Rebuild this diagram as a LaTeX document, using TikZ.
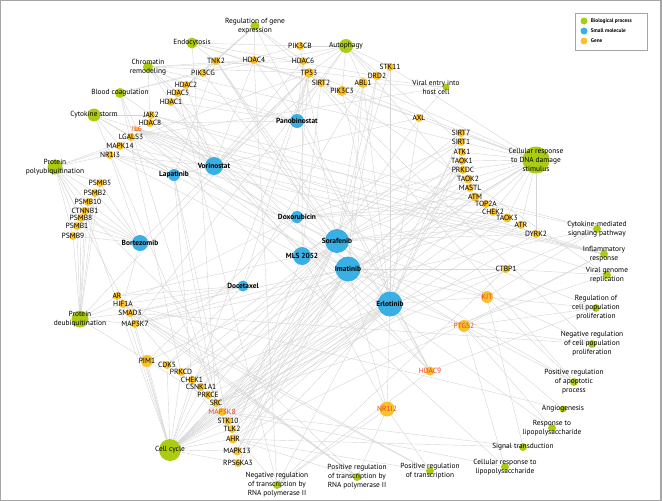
\documentclass[tikz,border=0pt]{standalone}
\usepackage{fontspec}
\setmainfont{PT Sans}
\usetikzlibrary{backgrounds,positioning}
\definecolor{bpgreen}{RGB}{170,205,20}
\definecolor{smblue}{RGB}{58,175,228}
\definecolor{gnorange}{RGB}{250,193,45}
\definecolor{gnred}{RGB}{235,65,40}
\definecolor{edgegray}{RGB}{214,214,214}
\definecolor{framegray}{RGB}{165,165,165}
\tikzset{
  bp/.style={circle,fill=bpgreen,inner sep=0pt,minimum size=#1},
  sm/.style={circle,fill=smblue,inner sep=0pt,minimum size=#1},
  gn/.style={circle,fill=gnorange,inner sep=0pt,minimum size=#1},
  gtext/.style={inner sep=0pt,font=\fontsize{7.5}{8}\selectfont},
  rtext/.style={gtext,text=gnred},
  ptext/.style={inner sep=0pt,align=center,font=\fontsize{7.4}{9}\selectfont},
  stext/.style={inner sep=0pt,font=\bfseries\fontsize{7.4}{8}\selectfont},
  ltext/.style={inner sep=0pt,font=\bfseries\fontsize{5.3}{6}\selectfont},
  edge/.style={draw=edgegray,line width=0.42pt},
}
\begin{document}
\begin{tikzpicture}[x=1pt,y=-1pt]
  \useasboundingbox (0,0) rectangle (662,501);
  % Frame
  \draw[framegray,line width=1.2pt] (0.6,0.6) rectangle (660.9,500.2);

  % Small molecules
  \foreach \n/\lbl/\x/\y/\s in {Vorinostat/Vorinostat/214/166/18, Lapatinib/Lapatinib/174/175/12,
      Panobinostat/Panobinostat/297/121/14, Bortezomib/Bortezomib/140/243/16,
      Doxorubicin/Doxorubicin/297/217/12, MLS/MLS 2052/302/256/18,
      Sorafenib/Sorafenib/337/241/24, Imatinib/Imatinib/348/269/25,
      Docetaxel/Docetaxel/243/286/11, Erlotinib/Erlotinib/390/304/25}
    \node[sm=\s, label={[stext]center:\lbl}] (\n) at (\x,\y) {};

  % Genes
  \foreach \n/\x/\y/\s in {TNK2/216/61/8, PIK3CG/203/73/8, HDAC4/254/60/8, PIK3CB/300/46/8,
      HDAC6/303/61/8, TP53/309/73/10, SIRT2/321/83/8, PIK3C3/342/91/10, ABL1/363/83/10,
      DRD2/377/76/8, STK11/390/67/8, AXL/419/118/8,
      HDAC2/186/85/8, HDAC5/178/93/8, HDAC1/171/102/8, JAK2/151/115/8, HDAC8/150/123/8,
      LGALS3/131/137/8, MAPK14/120/146/8, NR1I3/110/155/8,
      PSMB5/100/183/8, PSMB2/95/193/8, PSMB10/88/202/8, CTNNB1/85/211/8, PSMB8/81/218/8,
      PSMB1/77/226/8, PSMB9/73/236/8,
      AR/117/296/8, HIF1A/123/304/8, SMAD3/130/313/8, MAP3K7/135/324/8,
      SIRT7/461/133/8, SIRT1/461/142/8, ATK1/462/152/8, TAOK1/462/161/8, PRKDC/463/170/8,
      TAOK2/468/179/9, MASTL/470/188/8, ATM/475/197/9, TOP2A/486/204/8, CHEK2/493/212/8,
      TAOK3/507/218/9, ATR/521/225/8, DYRK2/536/234/8, CTBP1/506/269/8,
      PIM1/147/361/12, CDK5/167/365/8, PRKCD/181/372/8, CHEK1/192/380/8, CSNK1A1/201/387/8,
      PRKCE/208/395/8, SRC/216/403/8, STK10/228/421/8, TLK2/232/429/8, AHR/233/439/9,
      MAPK13/237/451/9, RPS6KA3/238/463/8}
    \node[gn=\s, label={[gtext]center:\n}] (\n) at (\x,\y) {};
  \foreach \n/\x/\y/\s in {IL6/137/129/5, MAP3K8/222/412/8, KIT/487/297/12,
      PTGS2/464/326/12, HDAC9/430/371/9, NR1I2/387/409/15}
    \node[gn=\s, label={[rtext]center:\n}] (\n) at (\x,\y) {};

  % Biological processes
  \node[bp=11, label={[ptext]center:Endocytosis}] (endocytosis) at (192,43) {};
  \node[bp=10, label={[ptext]center:{Chromatin\\remodeling}}] (chromatin) at (148,67) {};
  \node[bp=10, label={[ptext]center:Blood coagulation}] (bloodcoag) at (120,93) {};
  \node[bp=13, label={[ptext]center:Cytokine storm}] (cytokine) at (94,115) {};
  \node[bp=9, label={[ptext]center:{Regulation of gene\\expression}}] (geneexpr) at (255,26) {};
  \node[bp=14, label={[ptext]center:Autophagy}] (autophagy) at (346,46) {};
  \node[bp=7, label={[ptext,xshift=-10pt]center:{Viral entry into\\host cell}}] (viralentry) at (446,87) {};
  \node[bp=15, label={[ptext]center:{Protein\\polyubiquitination}}] (polyubiq) at (55,167) {};
  \node[bp=17, label={[ptext]center:{Protein\\deubiquitination}}] (deubiq) at (80,319) {};
  \node[bp=27, label={[ptext]center:{Cellular response\\to DNA damage\\stimulus}}] (dnadamage) at (536,160) {};
  \node[bp=22, label={[ptext]center:Cell cycle}] (cellcycle) at (170,450) {};
  \node[bp=8, label={[ptext]center:{Cytokine-mediated\\signaling pathway}}] (cytosignal) at (597,229) {};
  \node[bp=8, label={[ptext]center:{Inflammatory\\response}}] (inflam) at (604,254) {};
  \node[bp=8, label={[ptext]center:{Viral genome\\replication}}] (viralgenome) at (607,275) {};
  \node[bp=8, label={[ptext]center:{Regulation of\\cell population\\proliferation}}] (cellprolif) at (596,308) {};
  \node[bp=8, label={[ptext]center:{Negative regulation\\of cell population\\proliferation}}] (negprolif) at (592,344) {};
  \node[bp=8, label={[ptext]center:{Positive regulation\\of apoptotic\\process}}] (apoptotic) at (574,382) {};
  \node[bp=7, label={[ptext]center:Angiogenesis}] (angio) at (563,409) {};
  \node[bp=8, label={[ptext]center:{Response to\\lipopolysaccharide}}] (lps) at (552,428) {};
  \node[bp=8, label={[ptext]center:Signal transduction}] (signal) at (523,447) {};
  \node[bp=8, label={[ptext]center:{Cellular response to\\lipopolysaccharide}}] (celllps) at (505,467) {};
  \node[bp=8, label={[ptext]center:{Positive regulation\\of transcription}}] (postrans) at (430,471) {};
  \node[bp=8, label={[ptext]center:{Positive regulation\\of transcription by\\RNA polymerase II}}] (posrna) at (357,477) {};
  \node[bp=8, label={[ptext]center:{Negative regulation\\of transcription by\\RNA polymerase II}}] (negrna) at (277,485) {};

  % Legend
  \node[draw=framegray,line width=0.7pt,inner sep=0pt,minimum width=72,minimum height=37] (legend) at (611,31.5) {};
  \node[bp=7] (lgbp) at (584,21) {};
  \node[sm=7] (lgsm) at (584,31) {};
  \node[gn=7] (lggn) at (584,41) {};
  \node[ltext,right=3pt of lgbp] (lgbptext) {Biological process};
  \node[ltext,right=3pt of lgsm] (lgsmtext) {Small molecule};
  \node[ltext,right=3pt of lggn] (lggntext) {Gene};

  % Edges
  \begin{pgfonlayer}{background}
    \foreach \g in {HDAC1,HDAC2,HDAC4,HDAC5,HDAC6,HDAC8,HDAC9,TP53,NR1I3,JAK2,SIRT2}
      \draw[edge] (Vorinostat) -- (\g);
    \foreach \g in {HDAC1,HDAC2,HDAC4,HDAC5,HDAC6,HDAC8,HDAC9,TP53,SIRT2}
      \draw[edge] (Panobinostat) -- (\g);
    \foreach \g in {MAPK14,STK10,SRC,CHEK1,TNK2,AXL,LGALS3,NR1I3}
      \draw[edge] (Lapatinib) -- (\g);
    \foreach \g in {PSMB5,PSMB2,PSMB10,PSMB8,PSMB1,PSMB9,CTNNB1,HIF1A,TP53,NR1I3}
      \draw[edge] (Bortezomib) -- (\g);
    \foreach \g in {TOP2A,TP53,ATM,CHEK2,SIRT1,HIF1A,PIM1,PRKDC}
      \draw[edge] (Doxorubicin) -- (\g);
    \foreach \g in {SIRT1,SIRT2,SIRT7,HDAC1,HDAC6,AR,NR1I3,NR1I2,AHR}
      \draw[edge] (MLS) -- (\g);
    \foreach \g in {KIT,MAP3K8,STK10,TLK2,TNK2,DRD2,AXL,ABL1,CDK5,PRKCD,PRKCE,CSNK1A1,MAPK14,
        MAPK13,TAOK1,TAOK2,TAOK3,DYRK2,STK11,PIK3CB,JAK2,RPS6KA3,MASTL,ATR,CHEK1}
      \draw[edge] (Sorafenib) -- (\g);
    \foreach \g in {ABL1,KIT,PTGS2,DRD2,STK10,TAOK3,MAPK14,SRC,NR1I2,CTBP1,AHR,CHEK2,PRKDC,
        TNK2,PIM1,CSNK1A1,MAP3K7,SMAD3,MAPK13,RPS6KA3}
      \draw[edge] (Imatinib) -- (\g);
    \foreach \g in {KIT,PTGS2,HDAC9,NR1I2,CTBP1,AXL,SRC,STK10,MAP3K8,ABL1,TNK2,PIK3CG,PIK3C3,
        JAK2,AHR,TLK2,STK11,CHEK1,ATK1,PRKCE,RPS6KA3,SIRT7,TAOK1}
      \draw[edge] (Erlotinib) -- (\g);
    \foreach \g in {AR,HIF1A,SMAD3,MAP3K7,TP53,CDK5,ABL1}
      \draw[edge] (Docetaxel) -- (\g);

    \foreach \g in {PSMB5,PSMB2,PSMB10,CTNNB1,PSMB8,PSMB1,PSMB9,MAP3K7,NR1I3,MAPK14,TP53}
      \draw[edge] (polyubiq) -- (\g);
    \foreach \g in {PSMB5,PSMB2,PSMB10,CTNNB1,PSMB8,PSMB1,PSMB9,AR,HIF1A,SMAD3,MAP3K7,TP53,SRC}
      \draw[edge] (deubiq) -- (\g);
    \foreach \g in {PIM1,CDK5,PRKCD,CHEK1,CSNK1A1,PRKCE,SRC,MAP3K8,STK10,TLK2,AHR,MAPK13,RPS6KA3,
        CHEK2,ATM,ATR,TAOK1,TAOK2,TAOK3,MASTL,TOP2A,PRKDC,DYRK2,TP53,SMAD3,HIF1A,CTNNB1,MAP3K7}
      \draw[edge] (cellcycle) -- (\g);
    \foreach \g in {SIRT7,SIRT1,ATK1,TAOK1,PRKDC,TAOK2,MASTL,ATM,TOP2A,CHEK2,TAOK3,ATR,DYRK2,
        TP53,ABL1,CHEK1,PRKCD,STK11,SIRT2}
      \draw[edge] (dnadamage) -- (\g);
    \foreach \g in {PIK3CB,HDAC6,TP53,SIRT2,PIK3C3,ABL1,DRD2,STK11,PIK3CG,SIRT1,ATM,MAP3K7}
      \draw[edge] (autophagy) -- (\g);
    \foreach \g in {TNK2,PIK3C3,PIK3CB,AXL,SRC,DRD2}
      \draw[edge] (endocytosis) -- (\g);
    \foreach \g in {HDAC1,HDAC2,HDAC5,HDAC4,HDAC6,HDAC8,HDAC9,SIRT1,TP53}
      \draw[edge] (chromatin) -- (\g);
    \foreach \g in {HDAC4,HDAC1,HDAC2,HDAC5,TP53,HDAC6,HDAC9}
      \draw[edge] (geneexpr) -- (\g);
    \foreach \g in {PIK3CG,JAK2,IL6,SRC,PRKCD,PIK3CB}
      \draw[edge] (bloodcoag) -- (\g);
    \foreach \g in {JAK2,IL6,LGALS3,MAPK14,PTGS2,MAP3K8}
      \draw[edge] (cytokine) -- (\g);
    \foreach \g in {AXL,TNK2,LGALS3,ABL1}
      \draw[edge] (viralentry) -- (\g);
    \foreach \g in {IL6,JAK2,MAP3K7,KIT,SRC}
      \draw[edge] (cytosignal) -- (\g);
    \foreach \g in {IL6,PTGS2,JAK2,LGALS3,MAPK14,NR1I3,AHR}
      \draw[edge] (inflam) -- (\g);
    \foreach \g in {IL6,CTBP1,SRC,TP53}
      \draw[edge] (viralgenome) -- (\g);
    \foreach \g in {KIT,PTGS2,IL6,HDAC9}
      \draw[edge] (cellprolif) -- (\g);
    \foreach \g in {PTGS2,IL6,TP53,SMAD3}
      \draw[edge] (negprolif) -- (\g);
    \foreach \g in {PTGS2,TP53,IL6,KIT}
      \draw[edge] (apoptotic) -- (\g);
    \foreach \g in {PTGS2,HIF1A}
      \draw[edge] (angio) -- (\g);
    \foreach \g in {PTGS2,IL6}
      \draw[edge] (lps) -- (\g);
    \foreach \g in {KIT,MAP3K8,AHR}
      \draw[edge] (signal) -- (\g);
    \foreach \g in {PTGS2,MAP3K8,IL6}
      \draw[edge] (celllps) -- (\g);
    \foreach \g in {NR1I2,AHR,SMAD3,HIF1A}
      \draw[edge] (postrans) -- (\g);
    \foreach \g in {NR1I2,AHR,HIF1A,AR,SMAD3,CTNNB1}
      \draw[edge] (posrna) -- (\g);
    \foreach \g in {NR1I2,HDAC9,SIRT1,HDAC4,HDAC5,CTBP1,SMAD3}
      \draw[edge] (negrna) -- (\g);
  \end{pgfonlayer}
\end{tikzpicture}
\end{document}
